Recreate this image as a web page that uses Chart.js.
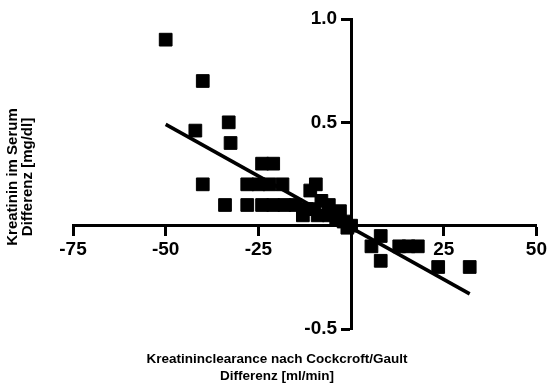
<!DOCTYPE html>
<html>
<head>
<meta charset="utf-8">
<script src="https://cdn.jsdelivr.net/npm/chart.js@4.4.0/dist/chart.umd.min.js"></script>
<style>
  html, body { margin: 0; padding: 0; background: #fff; }
</style>
</head>
<body>
<canvas id="chart1" width="551" height="392"></canvas>
<script>
// data
var diffClearance = [-50, -40, -33, -42, -32.5, -40, -24, -21, -34, -28, -25, -22, -18.5, -9.5, -11,
  -28, -24, -21, -18, -15, -12, -8, -6, -13, -10, -9, -6, -4, -3, -2, 0, -1,
  5.5, 8, 8, 13, 15.5, 18, 23.5, 32];
var diffKreatinin = [0.9, 0.7, 0.5, 0.46, 0.4, 0.2, 0.3, 0.3, 0.1, 0.2, 0.2, 0.2, 0.2, 0.2, 0.17,
  0.1, 0.1, 0.1, 0.1, 0.1, 0.08, 0.12, 0.1, 0.05, 0.08, 0.05, 0.05, 0.03, 0.07, 0.02, 0, -0.01,
  -0.1, -0.05, -0.17, -0.1, -0.1, -0.1, -0.2, -0.2];

// regression line end points
var lineX = [-50, 32];
var lineY = [0.49, -0.33];

var xTicks = [-75, -50, -25, 0, 25, 50];
var yTicks = [-0.5, 0, 0.5, 1.0];

var xTitle = ['Kreatininclearance nach Cockcroft/Gault', 'Differenz [ml/min]'];
var yTitle = ['Kreatinin im Serum', 'Differenz [mg/dl]'];

var points = diffClearance.map(function(x, i) { return {x: x, y: diffKreatinin[i]}; });
var linePoints = lineX.map(function(x, i) { return {x: x, y: lineY[i]}; });

var tickFont = {family: '"Liberation Sans", Arial, sans-serif', size: 19, weight: 'bold'};

// axis titles at the edges, like the original
var axisTitles = {
  id: 'axisTitles',
  afterDraw: function(chart) {
    var ctx = chart.ctx;
    ctx.save();
    ctx.fillStyle = '#000';
    ctx.textAlign = 'center';
    ctx.textBaseline = 'middle';
    ctx.font = 'bold 13.5px "Liberation Sans", Arial, sans-serif';
    ctx.fillText(xTitle[0], 277, 359);
    ctx.fillText(xTitle[1], 277, 376);
    ctx.font = 'bold 15px "Liberation Sans", Arial, sans-serif';
    ctx.translate(13, 177);
    ctx.rotate(-Math.PI / 2);
    ctx.fillText(yTitle[0], 0, 0);
    ctx.fillText(yTitle[1], 0, 15);
    ctx.restore();
  }
};

// y labels of an axis placed at x=0 sit on the line, move them left of the ticks
var shiftYLabels = {
  id: 'shiftYLabels',
  beforeDraw: function(chart) {
    var items = chart.scales.y.getLabelItems();
    if (items.shifted) return;
    items.forEach(function(item) { item.options.translation[0] -= 14; });
    items.shifted = true;
  }
};

function hideZero(ctx) {
  return ctx.tick && ctx.tick.value === 0 ? 'rgba(0,0,0,0)' : '#000';
}

new Chart('chart1', {
  type: 'scatter',
  data: {
    datasets: [{
      data: points,
      pointStyle: 'rect',
      pointRadius: 9,
      borderWidth: 1,
      backgroundColor: '#000',
      borderColor: '#000'
    }, {
      type: 'line',
      data: linePoints,
      borderColor: '#000',
      borderWidth: 3.5,
      pointRadius: 0,
      fill: false
    }]
  },
  options: {
    responsive: false,
    animation: false,
    layout: {padding: {left: 73, right: 12, top: 19, bottom: 63}},
    plugins: {legend: {display: false}, tooltip: {enabled: false}},
    scales: {
      x: {
        type: 'linear',
        position: {y: 0},
        min: -75,
        max: 50,
        afterBuildTicks: function(scale) {
          scale.ticks = xTicks.map(function(v) { return {value: v}; });
        },
        afterFit: function(scale) { scale.height = 0; },
        grid: {drawOnChartArea: false, drawTicks: true, tickLength: 9, tickWidth: 3, tickColor: hideZero},
        border: {color: '#000', width: 3},
        ticks: {
          color: '#000',
          font: tickFont,
          padding: 4,
          maxRotation: 0,
          callback: function(v) { return v === 0 ? '' : v; }
        }
      },
      y: {
        type: 'linear',
        position: {x: 0},
        min: -0.5,
        max: 1.0,
        afterBuildTicks: function(scale) {
          scale.ticks = yTicks.map(function(v) { return {value: v}; });
        },
        afterFit: function(scale) { scale.width = 0; },
        grid: {drawOnChartArea: false, drawTicks: true, tickLength: 9, tickWidth: 3, tickColor: hideZero},
        border: {color: '#000', width: 3},
        ticks: {
          color: '#000',
          font: tickFont,
          callback: function(v) { return v === 0 ? '' : v.toFixed(1); }
        }
      }
    }
  },
  plugins: [axisTitles, shiftYLabels]
});
</script>
</body>
</html>
